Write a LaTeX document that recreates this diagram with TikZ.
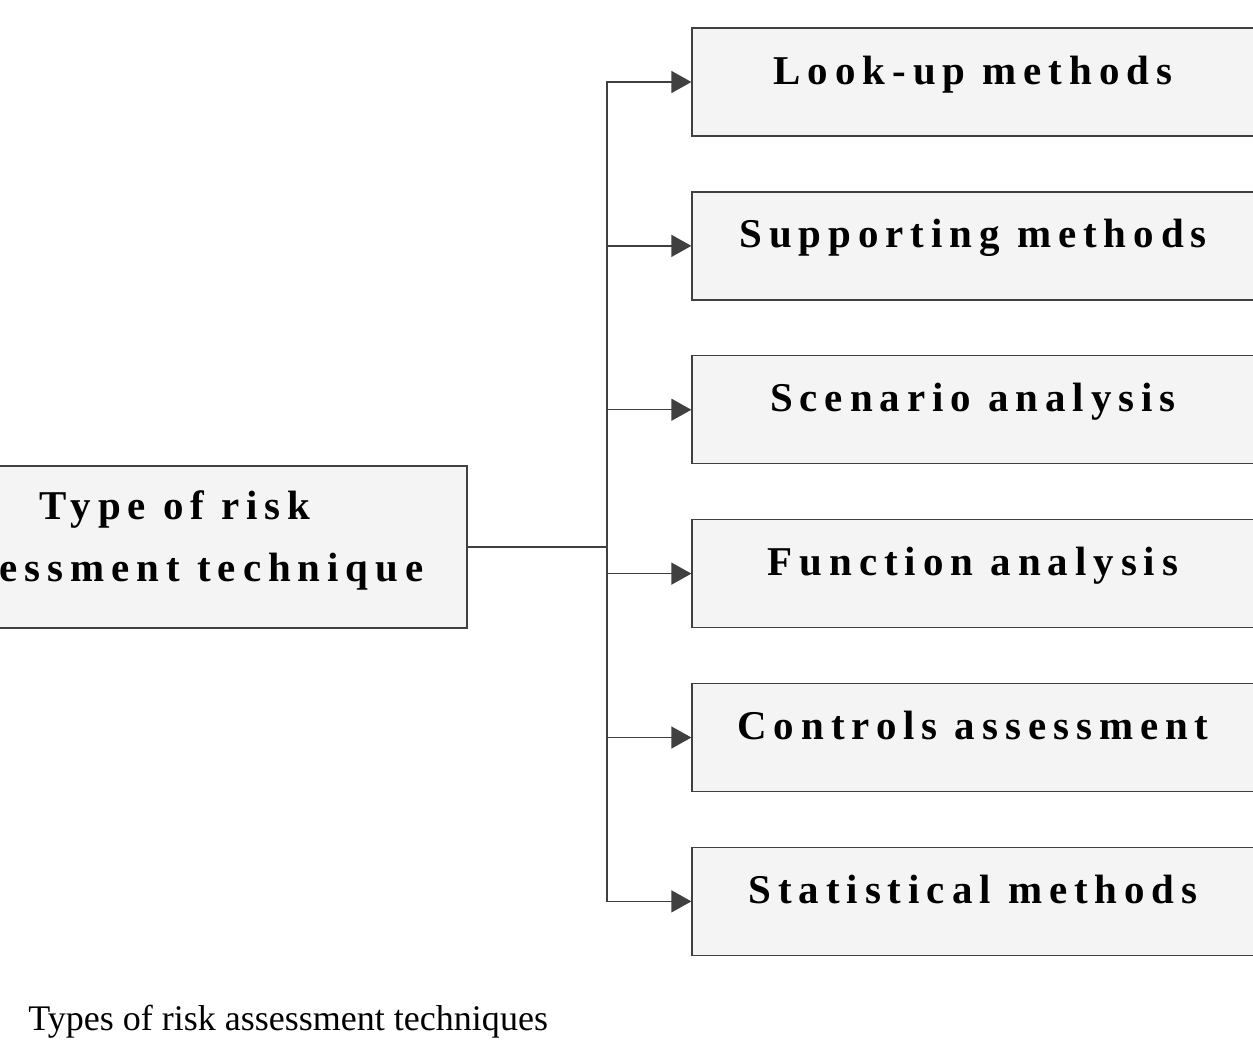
\documentclass[tikz,border=0pt]{standalone}
\usepackage{fontspec}
\setmainfont{Liberation Serif}
\newfontfamily\boxfont[LetterSpace=17]{Liberation Serif}
\usetikzlibrary{arrows.meta,positioning}

\definecolor{edgegray}{HTML}{404040}
\definecolor{boxfill}{HTML}{F4F4F4}

\begin{document}
\begin{tikzpicture}[x=0.02cm, y=-0.02cm, node distance=1.09cm, >=Triangle,
    block/.style={rectangle, draw=edgegray, line width=0.8pt, fill=boxfill, inner sep=0pt,
      minimum width=11.24cm, minimum height=2.16cm, text height=0.3cm, text depth=0.22cm,
      font=\boxfont\bfseries\fontsize{23.3}{35.3}\selectfont},
    root/.style={rectangle, draw=edgegray, line width=0.8pt, fill=boxfill, inner sep=0pt,
      minimum width=11.68cm, minimum height=3.24cm, align=center,
      font=\boxfont\bfseries\fontsize{23.3}{35.3}\selectfont},
    line/.style={draw=edgegray, line width=0.8pt},
    arrow/.style={line, -{Triangle[length=0.4cm, width=0.44cm]}}]

    \useasboundingbox (0,0) rectangle (1253,1049);
    \fill[white] (0,0) rectangle (1253,1049);
    \clip (0,0) rectangle (1253,1049);

    \node [root] (type) at (175,547) {Type of risk\\assessment technique\rule[-0.42cm]{0pt}{1pt}};

    \node [block] (lookup) at (973,82) {Look-up methods};
    \node [block, below=of lookup] (support) {Supporting methods};
    \node [block, below=of support] (scenario) {Scenario analysis};
    \node [block, below=of scenario] (function) {Function analysis};
    \node [block, below=of function] (controls) {Controls assessment};
    \node [block, below=of controls] (stats) {Statistical methods};

    \coordinate (split) at (607,547);
    \path [line] (type.east) -- (split);
    \foreach \b in {lookup,support,scenario,function,controls,stats}
      \path [arrow] (split) |- (\b.west);

    \node [anchor=base west, inner sep=0pt, font=\fontsize{20.5}{25}\selectfont] (caption) at (28,1030)
      {Types of risk assessment techniques};
\end{tikzpicture}
\end{document}
